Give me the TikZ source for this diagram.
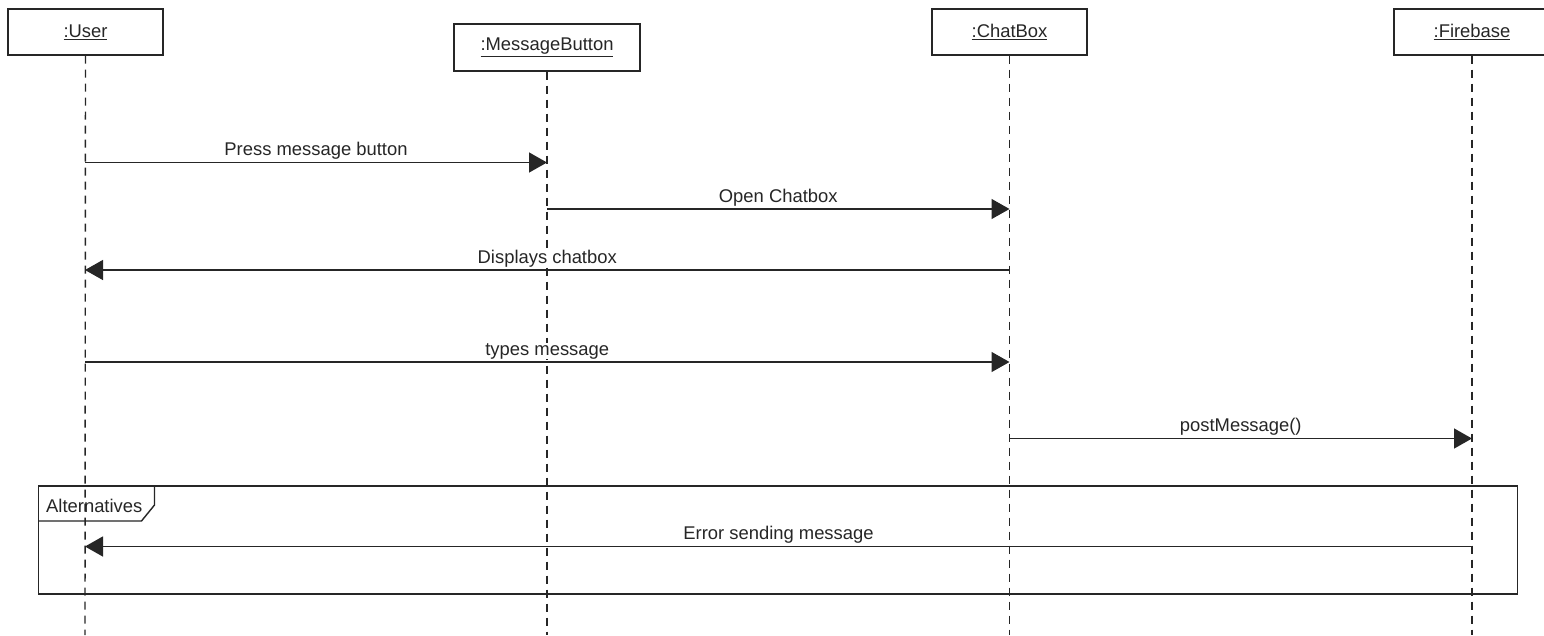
\documentclass[tikz,border=0pt]{standalone}
\usepackage{fontspec}
\setmainfont{Liberation Sans}
\usetikzlibrary{arrows.meta}
\begin{document}
\begin{tikzpicture}[x=1pt,y=-1pt,
  every node/.style={font=\fontsize{18.4}{20}\selectfont, text=black!85},
  objbox/.style={draw=black!85, line width=1.4pt, fill=white, minimum height=46pt, inner sep=0pt},
  lifeline/.style={draw=black!85, line width=1.4pt, dash pattern=on 8pt off 6pt},
  msg/.style={draw=black!85, line width=1.4pt, -{Triangle[length=18pt,width=20pt]}},
  msglabel/.style={anchor=base, inner sep=0.5pt, fill=white},
  framebox/.style={draw=black!85, line width=1.4pt}]
\useasboundingbox (0,0) rectangle (1544,635);
% object boxes
\node[objbox, minimum width=155pt] (user) at (85.5,32) {\underline{:User}};
\node[objbox, minimum width=186pt, minimum height=47pt] (mb) at (547,47.5) {\underline{:MessageButton}};
\node[objbox, minimum width=155pt] (chat) at (1009.5,32) {\underline{:ChatBox}};
\node[objbox, minimum width=156pt] (fire) at (1472,32) {\underline{:Firebase}};
% lifeline ends
\coordinate (userend) at (85,635);
\coordinate (mbend) at (547,635);
\coordinate (chatend) at (1009.5,635);
\coordinate (fireend) at (1472,635);
% message points
\coordinate (u1) at (85,162.5);   \coordinate (m1) at (547,162.5);
\coordinate (m2) at (547,209);    \coordinate (c2) at (1009.5,209);
\coordinate (c3) at (1009.5,270); \coordinate (u3) at (85,270);
\coordinate (u4) at (85,362);     \coordinate (c4) at (1009.5,362);
\coordinate (c5) at (1009.5,438.5); \coordinate (f5) at (1472,438.5);
\coordinate (f6) at (1472,546.5); \coordinate (u6) at (85,546.5);
% frame
\coordinate (fr1) at (38.5,486);
\coordinate (fr2) at (1517.5,594);
\draw[framebox, fill=white] (fr1) rectangle (fr2);
\coordinate (p1) at (154.5,486);
\coordinate (p2) at (154.5,505);
\coordinate (p3) at (141.5,521);
\coordinate (p4) at (38.5,521);
\draw[framebox] (p1) -- (p2) -- (p3) -- (p4);
\node[anchor=base west, inner sep=0pt] (alt) at (46,512) {Alternatives};
% lifelines
\draw[lifeline] (user.south) -- (userend);
\draw[lifeline] (mb.south) -- (mbend);
\draw[lifeline] (chat.south) -- (chatend);
\draw[lifeline] (fire.south) -- (fireend);
% messages
\draw[msg] (u1) -- node[msglabel, yshift=7pt] (l1) {Press message button} (m1);
\draw[msg] (m2) -- node[msglabel, yshift=7pt] (l2) {Open Chatbox} (c2);
\draw[msg] (c3) -- node[msglabel, yshift=7pt] (l3) {Displays chatbox} (u3);
\draw[msg] (u4) -- node[msglabel, yshift=7pt] (l4) {types message} (c4);
\draw[msg] (c5) -- node[msglabel, yshift=7pt] (l5) {postMessage()} (f5);
\draw[msg] (f6) -- node[msglabel, yshift=7pt] (l6) {Error sending message} (u6);
\end{tikzpicture}
\end{document}
